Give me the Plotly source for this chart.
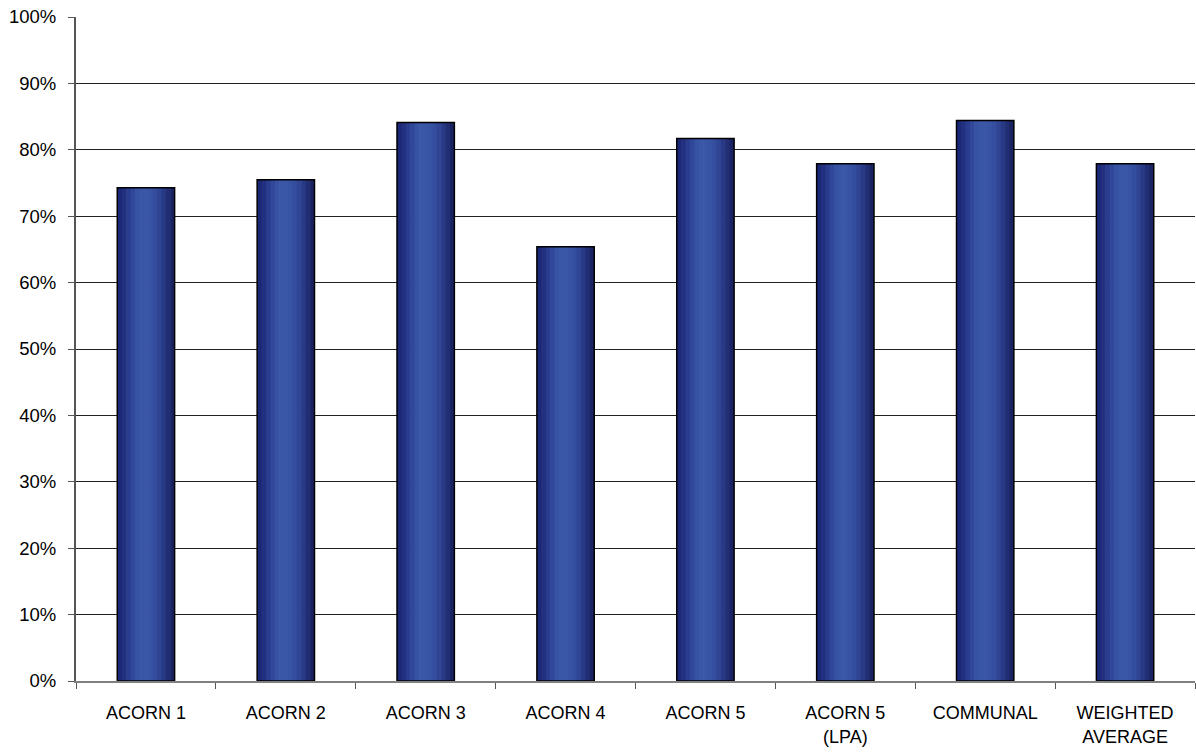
import plotly.graph_objects as go

categories = ["ACORN 1", "ACORN 2", "ACORN 3", "ACORN 4", "ACORN 5",
              "ACORN 5<br>(LPA)", "COMMUNAL", "WEIGHTED<br>AVERAGE"]
values = [0.743, 0.755, 0.841, 0.654, 0.817, 0.779, 0.844, 0.779]

# horizontal gradient profile across each bar (left -> right)
gradient = ["#1b2878", "#22307f", "#2a3c8e", "#31479a", "#3752a3", "#3a56a7",
            "#3a56a7", "#3853a4", "#344d9e", "#2f4594", "#283a86", "#212e73",
            "#1b2462"]

bar_w = 0.41
n = len(gradient)
slice_w = bar_w / n

fig = go.Figure()
for k, col in enumerate(gradient):
    fig.add_trace(go.Bar(
        x=categories, y=values,
        width=slice_w * 1.15 if k < n - 1 else slice_w,
        offset=-bar_w / 2 + k * slice_w,
        marker=dict(color=col, line=dict(width=0)),
        hoverinfo="skip", showlegend=False,
    ))
fig.add_trace(go.Bar(
    x=categories, y=values, width=bar_w,
    marker=dict(color="rgba(0,0,0,0)", line=dict(color="#000000", width=1.5)),
    showlegend=False,
))

fig.update_layout(
    barmode="overlay",
    width=1196, height=756,
    margin=dict(l=76, r=1, t=17, b=75),
    paper_bgcolor="white", plot_bgcolor="white",
    font=dict(family="Liberation Sans, Arial, sans-serif", color="#000000", size=18),
    xaxis=dict(
        type="category", showgrid=False, showline=True, linecolor="#808080",
        linewidth=1.5, ticks="outside", tickson="boundaries", ticklen=6,
        tickcolor="#555555", tickfont=dict(size=18), zeroline=False,
        ticklabelstandoff=15,
    ),
    yaxis=dict(
        range=[0, 1], dtick=0.1, tickformat=".0%", showgrid=True,
        gridcolor="#222222", gridwidth=1, showline=True, linecolor="#555555",
        linewidth=2, ticks="outside", ticklen=6, tickcolor="#555555",
        tickfont=dict(size=18.5), zeroline=False, ticklabelstandoff=8,
    ),
)

fig.write_html("out.html")
